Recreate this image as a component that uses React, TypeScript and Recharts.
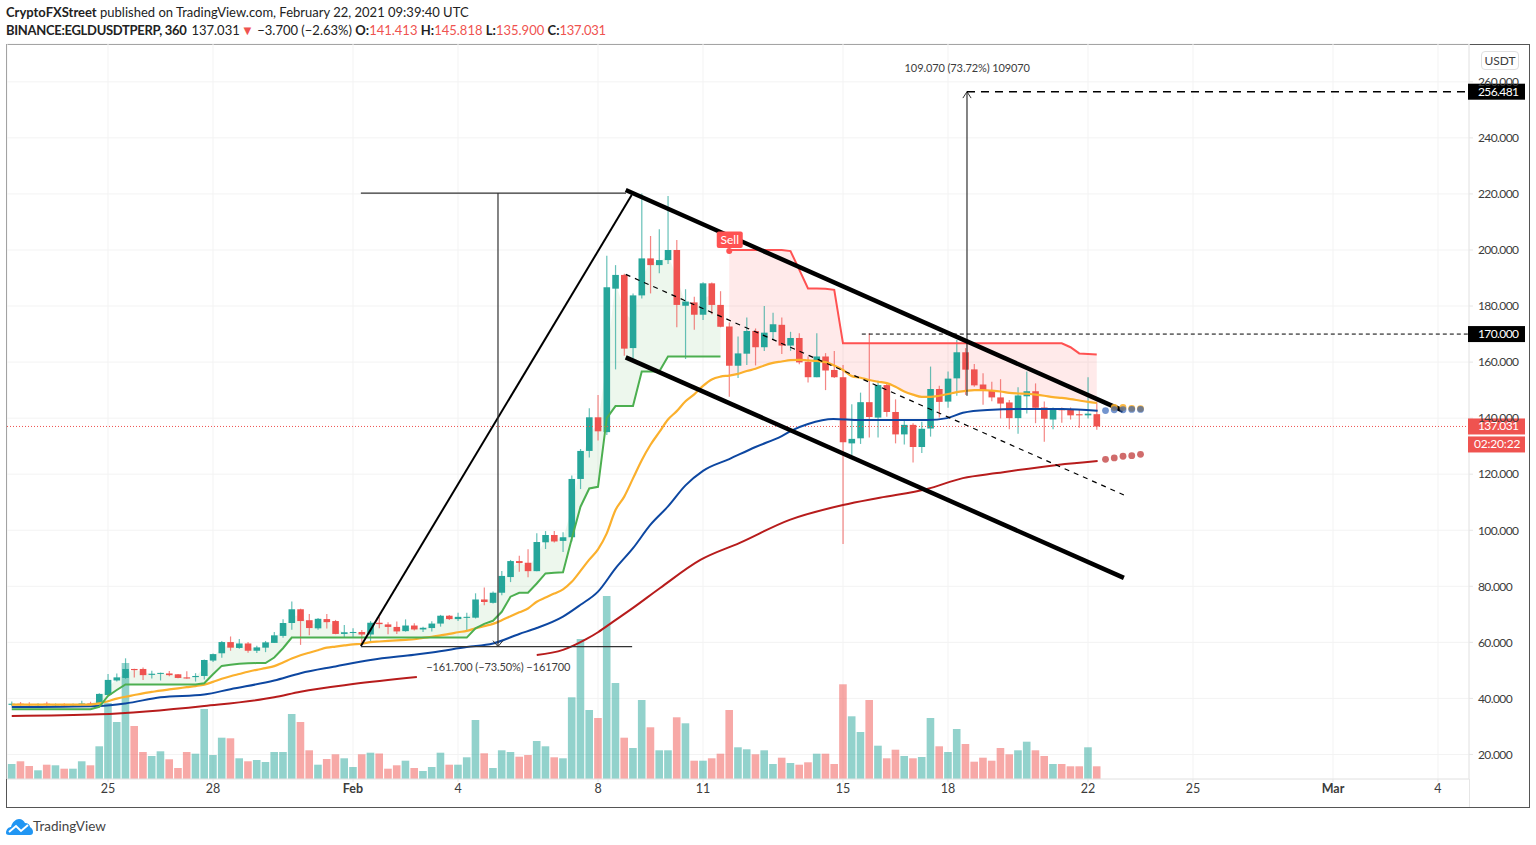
import React from 'react';
import {
  Area,
  Bar,
  CartesianGrid,
  ComposedChart,
  Line,
  ReferenceDot,
  ReferenceLine,
  XAxis,
  YAxis,
} from 'recharts';

// one row per 6h candle, index 0 is the first candle on the left
const opens = [
  37.7, 38.1, 38, 37.6, 38.1, 37.6, 37.9, 37.5, 37.8, 38.2,
  37.9, 41.2, 46.4, 47.3, 50.5, 50.5, 48.4, 48.8, 48.9, 48.6,
  47.5, 47.6, 48, 53.5, 56.1, 60.1, 58, 59.6, 57, 58.1,
  59.8, 62.3, 66.9, 71.8, 67.9, 65, 68.3, 67.6, 63, 63.4,
  63.7, 62.8, 67, 66.4, 65.5, 64, 66, 64.6, 65.1, 66.7,
  69.5, 68.3, 68.9, 68.8, 75.3, 74.1, 77.7, 83.3, 89, 88.4,
  85.4, 95.7, 98.3, 96.2, 97.5, 118.3, 128.3, 140.3, 135, 186.2,
  191.1, 165, 183.8, 197, 194.6, 196.4, 200, 180.1, 181.3, 176.9,
  188.1, 180.4, 172.7, 158.7, 163, 171.1, 165.3, 170.7, 173.3, 165.9,
  168.6, 160.1, 154.6, 162, 157.2, 154.6, 131, 132.8, 145.7, 140.2,
  151.8, 142.2, 134.2, 137.6, 129.7, 136.3, 150.4, 145.9, 154.2, 163.5,
  157.4, 152, 149.8, 147.4, 145.6, 140, 147.8, 149.6, 143.8, 139.5,
  143.2, 142.9, 141.4, 141, 141.413,
];
const closes = [
  38.1, 37.8, 37.6, 38, 37.7, 37.9, 37.5, 37.9, 38.2, 37.9,
  41.6, 46.6, 47.5, 50.5, 50.1, 48.3, 48.8, 49.1, 48.3, 47.3,
  47.1, 48, 53.7, 55.8, 60.1, 58.1, 59.6, 57, 58.2, 60,
  62.5, 66.9, 71.8, 67.6, 65.1, 68.4, 67.2, 63, 63.6, 63.7,
  62.8, 67, 66.5, 65.5, 63.9, 66, 64.6, 65.2, 66.7, 69.5,
  68.3, 69.1, 69.1, 75.3, 74.4, 77.7, 83.7, 89, 88.3, 85.4,
  95.8, 98.3, 96, 97.5, 118.3, 128.3, 140.3, 135.3, 186.7, 191.1,
  164.8, 183.8, 197, 194.6, 196.4, 200, 180.4, 181.6, 176.9, 188.1,
  180.4, 172.6, 158.7, 163.1, 171.1, 165.3, 170.5, 173.5, 165.9, 168.6,
  159.9, 154.6, 162, 157, 154.6, 131.4, 132.6, 145.7, 140.4, 151.8,
  142.2, 134.2, 137.6, 129.7, 136.2, 150.4, 145.8, 154.1, 163.5, 157.3,
  151.7, 149.8, 147.4, 145.2, 140, 148.1, 149.6, 143.7, 139.8, 143.2,
  142.8, 141, 141, 141.6, 137.031,
];
const highs = [
  38.9, 38.7, 38.6, 38.3, 38.8, 38.2, 38.3, 38.2, 39.2, 38.8,
  41.8, 48.7, 48.9, 54.3, 50.6, 51, 49.9, 49.2, 49.8, 48.7,
  49.7, 49, 53.9, 56, 60.5, 62.1, 61.2, 60.1, 58.8, 60.5,
  63.7, 68.2, 74.6, 72, 70.1, 68.7, 70.1, 68, 66.2, 65,
  64.4, 67.6, 69, 67.2, 67.4, 68.2, 66.8, 65.6, 67.5, 69.8,
  69.8, 70.6, 70.6, 77.5, 79.6, 78.1, 85.5, 89.4, 90.9, 93.2,
  98.9, 99.7, 99.7, 99.3, 119.5, 129, 143.5, 148.3, 197.9, 194.6,
  191.5, 184.5, 220.2, 205, 207.4, 219.3, 203.6, 186, 183.3, 188.5,
  188.4, 185.3, 174.1, 169.1, 175.9, 172, 180, 177.6, 175.9, 170.8,
  170.3, 162, 170.3, 163.2, 164, 159, 145, 149.1, 170.3, 153.3,
  152.4, 146.7, 139.3, 138.2, 138.7, 158.4, 151.6, 156.6, 167.9, 165,
  159.3, 156, 153, 153.9, 146.5, 151, 156.6, 152.4, 145.9, 143.8,
  143.8, 143.8, 142.9, 154.6, 145.818,
];
const lows = [
  37.3, 37.4, 37.2, 37.3, 37.2, 37.2, 37.1, 37.2, 37.5, 37.6,
  37.6, 41, 46, 47, 47.5, 46.6, 47.1, 46.4, 47.9, 47.2,
  47, 46, 46.7, 53, 54.5, 57, 57.7, 56.3, 56.2, 56.5,
  59.8, 61.6, 64.5, 59.1, 62.5, 64.5, 64.9, 62.9, 61.9, 61.9,
  59.4, 60.1, 65, 62.9, 63, 63.8, 64.2, 63.7, 63.9, 65.6,
  68, 67.6, 64, 68.5, 73.2, 73.9, 76.8, 81.5, 85.2, 83.2,
  85.4, 93.3, 95.6, 92.2, 96, 114.7, 126, 132, 134, 157.4,
  162.3, 161.4, 182.7, 184.5, 191.7, 195, 172.4, 161.1, 171.5, 175,
  177.1, 172.4, 147.6, 154.3, 159, 158.8, 164, 168.1, 162.9, 164,
  159.2, 152.7, 154.6, 150, 154.3, 95.1, 126.8, 130.8, 133.1, 133.1,
  140.5, 131, 130.6, 124.2, 127.6, 133.4, 140.2, 143.7, 148, 148.3,
  151.2, 144.8, 146, 139.9, 136, 134.4, 141.7, 138.2, 131.6, 136,
  138.4, 139.5, 136.6, 139.9, 135.9,
];
const volumes = [
  15, 17.7, 13, 8.7, 14.3, 13.7, 10.3, 10.3, 17.7, 13.7,
  32.7, 76, 57, 116, 53, 27, 23, 27.7, 19.7, 11,
  27, 25.3, 70, 24, 41.3, 40.7, 20.7, 17.7, 19, 17,
  27, 27, 65, 57, 28.7, 14.3, 20, 24.7, 20.7, 12,
  24.7, 26.3, 25.5, 10.3, 13.7, 18.3, 11, 8, 12, 26.3,
  14.3, 14.3, 21.7, 59, 25.7, 11, 28.7, 27, 22.3, 24,
  38, 32.7, 21.7, 20.7, 81.7, 140, 69, 61, 183, 96,
  41.3, 31, 79, 51.7, 28.7, 28.7, 61.7, 55.7, 18.3, 18.3,
  20.7, 25.3, 69, 31.7, 29.7, 24.7, 28.7, 15, 21.3, 16,
  14.3, 16.7, 25.3, 25.3, 15, 94.7, 62.7, 47, 79, 33.3,
  20.7, 29.3, 23, 20.7, 22, 61, 32.7, 27, 50, 35,
  17.3, 21.3, 18.3, 31, 24.7, 28.7, 37.3, 28.7, 23, 15,
  15, 12.7, 12.7, 31.7, 12.7,
];

// orange moving average, per candle
const emaOrange = [
  37.8, 37.8, 37.8, 37.8, 37.8, 37.8, 37.8, 37.8, 37.8, 37.8,
  38.2, 39, 39.9, 40.6, 41.2, 41.8, 42.3, 42.8, 43.2, 43.6,
  44, 44.4, 44.9, 45.9, 47, 47.9, 48.7, 49.5, 50.2, 50.8,
  51.5, 52.8, 54.2, 55.4, 56.3, 57.2, 58.1, 58.5, 58.9, 59.3,
  59.5, 60.1, 60.3, 60.5, 60.7, 60.9, 61.1, 61.6, 62, 62.5,
  63, 63.6, 64.1, 65, 65.8, 66.6, 67.9, 69.3, 70.7, 72.1,
  74.5, 76, 77.4, 78.9, 81.6, 85.5, 89.5, 93.2, 98.9, 107.2,
  112, 118.5, 125, 130.5, 135, 139.5, 142.5, 146, 148.5, 151.5,
  153.8, 154.8, 155.2, 155.8, 156.8, 157.6, 158.8, 159.7, 160.2, 160.7,
  160.8, 160.6, 160.4, 160, 158.8, 157.2, 155, 154.4, 153.6, 153,
  152.5, 151.2, 149.5, 148.4, 147.6, 147.6, 148, 148.6, 149.3, 149.7,
  150, 150, 149.8, 149.5, 149, 148.8, 148.7, 148.4, 148, 147.5,
  147.2, 146.8, 146.3, 145.8, 145.4,
];
// supertrend: long side runs candle 0..81, short side 82..124
const trendUp = [
  36.1, 36.1, 36.1, 36.1, 36.1, 36.1, 36.1, 36.1, 36.1, 36.1,
  37, 40.9, 43, 45, 45, 45, 45, 45, 45, 45,
  45, 45, 45.4, 48.6, 51.6, 52, 52.4, 52.5, 52.6, 52.6,
  54.6, 57.9, 61.7, 61.7, 61.7, 61.7, 61.7, 61.7, 61.7, 61.7,
  61.7, 61.7, 61.7, 61.7, 61.7, 61.7, 61.7, 61.7, 61.7, 61.7,
  61.7, 61.7, 61.7, 65, 66.6, 67.7, 70.9, 76.3, 77.7, 77.7,
  81, 84.6, 84.8, 85, 97, 108.4, 114.9, 115.5, 140, 144.3,
  144.3, 144.3, 156.6, 156.6, 156.6, 162, 162, 162, 162, 162,
  162, 162,
];
const trendDown = [
  200, 200, 200, 200, 200, 200, 200, 199.6, 193, 186.3,
  186.3, 186.2, 185.8, 166.7, 166.7, 166.7, 166.7, 166.7, 166.7, 166.7,
  166.7, 166.7, 166.7, 166.7, 166.7, 166.7, 166.7, 166.7, 166.7, 166.7,
  166.7, 166.7, 166.7, 166.7, 166.7, 166.7, 166.7, 166.7, 166.7, 165.3,
  163.1, 162.9, 162.7,
];
const trendDownStart = 82;

// [candle index, price]
const emaBlue = [
  [0, 36.9], [10, 37.3], [13, 38.2], [17, 40.4], [22, 41.4], [25, 43.3], [30, 46.4], [33, 49], [37, 51.4],
  [41, 53.7], [46, 55.6], [48, 56.4], [52, 58.3], [55, 59.6], [58, 63], [60, 65.1], [63, 69.2], [65, 73.4],
  [67, 78.1], [69, 86.4], [71, 93.6], [73, 102], [75, 108.5], [77, 116], [79, 121.2], [82, 125.4], [85, 129.7],
  [88, 133.6], [89.3, 135.8], [91, 137.9], [93.9, 139.7], [96.9, 139.3], [104.6, 139.3], [106.9, 140],
  [108.7, 141.9], [111.5, 142.9], [116.4, 143.3], [120.1, 143.3], [124.1, 142.6],
];
const emaRedLeft = [
  [0, 33.7], [10, 34.3], [22, 37.3], [30, 40.4], [33, 42.4], [39, 45.1], [46.3, 47.6],
];
const emaRedRight = [
  [60, 55.5], [63, 57.3], [65.7, 61.2], [67, 63.6], [68.7, 67.3], [71, 72.3], [74.1, 79.4], [78.7, 89.4],
  [83.2, 95.5], [88.9, 103.7], [95, 109], [99.2, 111.6], [104.6, 114.7], [108.7, 118.6], [112.6, 120.4],
  [119.5, 123.3], [124.1, 124.7],
];
const forecastOrange = [[126, 143.8], [127, 143.8], [128, 143.5], [129, 143.4]];
const forecastBlue = [[125, 142.7], [126, 143], [127, 143], [128, 143.1], [129, 143.1]];
const forecastRed = [[125, 125.3], [126, 125.8], [127, 126.4], [128, 126.6], [129, 127.1]];

// drawings
const channelTop = [[70.17, 221.4], [127, 142.7]];
const channelBottom = [[70.17, 161.7], [127.1, 83]];
const channelMiddle = [[70.17, 191.3], [127.1, 112.6]];
const swingLine = [[39.9, 58.7], [70.85, 219.6]];
const rangeTop = [[39.9, 220.3], [70.2, 220.3]];
const rangeBottom = [[39.9, 58.5], [70.9, 58.5]];
const rangeStem = [[55.57, 220.3], [55.57, 58.5]];
const rangeArrow = [[55, 60.6], [55.57, 58.5], [56.14, 60.6]];
const targetStem = [[109.17, 148], [109.17, 256.481]];
const targetArrow = [[108.7, 254.2], [109.17, 256.481], [109.64, 254.2]];

const priceTicks = [20, 40, 60, 80, 100, 120, 140, 160, 180, 200, 220, 240, 260];
const dayTicks = [11, 23, 39, 51, 67, 79, 95, 107, 123, 135, 151, 163];
const dayLabels = ['25', '28', 'Feb', '4', '8', '11', '15', '18', '22', '25', 'Mar', '4'];
const boldDays = ['Feb', 'Mar'];

const UP = '#26a69a';
const DOWN = '#ef5350';
const FONT = 'Lato, "Open Sans", sans-serif';
const TEXT = '#3c3c3c';
const CANDLE_W = 6.6;
const VOLUME_W = 7.6;

const toRows = (pts: number[][]) => pts.map(([k, v]) => ({ k, v }));

const candles = opens.map((open, k) => ({
  k,
  open,
  close: closes[k],
  high: highs[k],
  low: lows[k],
  volume: volumes[k],
  range: [lows[k], highs[k]],
}));

const greenBand = trendUp.map((v, k) => ({ k, band: [v, (opens[k] + closes[k]) / 2] }));
const redBand = trendDown.map((v, i) => ({
  k: i + trendDownStart,
  band: [emaOrange[i + trendDownStart], v],
}));
const orangeRows = emaOrange.map((v, k) => ({ k, v }));
const upRows = trendUp.map((v, k) => [k, v]);
const downRows = trendDown.map((v, i) => [i + trendDownStart, v]);

// the numeric axis hands out a very thin band, so the shapes size themselves around its centre
const Candle = (props: any) => {
  const { x, y, width, height, payload } = props;
  const { open, close, high, low } = payload;
  const color = close >= open ? UP : DOWN;
  const perUnit = height / (high - low || 1);
  const top = y + (high - Math.max(open, close)) * perUnit;
  const bodyH = Math.max(Math.abs(open - close) * perUnit, 1);
  const mid = x + width / 2;
  return (
    <g>
      <line x1={mid} x2={mid} y1={y} y2={y + height} stroke={color} strokeOpacity={0.7} strokeWidth={1.2} />
      <rect x={mid - CANDLE_W / 2} y={top} width={CANDLE_W} height={bodyH} fill={color} />
    </g>
  );
};

const VolumeBar = (props: any) => {
  const { x, y, width, height, payload } = props;
  const color = payload.close >= payload.open ? UP : DOWN;
  const mid = x + width / 2;
  return <rect x={mid - VOLUME_W / 2} y={y} width={VOLUME_W} height={height} fill={color} fillOpacity={0.5} />;
};

const PriceTag = ({ cx, cy, text, bg, sub }: any) => (
  <g>
    <rect x={cx - 1} y={cy - 8} width={57} height={16} fill={bg} />
    <text x={cx + 9} y={cy + 4} fontSize={12} letterSpacing={-0.6} fontFamily={FONT} fill="#fff">{text}</text>
    {sub && <rect x={cx - 1} y={cy + 10} width={57} height={16} fill={bg} />}
    {sub && <text x={cx + 5} y={cy + 22} fontSize={12} letterSpacing={-0.2} fontFamily={FONT} fill="#fff">{sub}</text>}
  </g>
);

const SellMark = ({ cx, cy }: any) => (
  <g>
    <rect x={cx - 12.5} y={cy - 19.5} width={26} height={16.5} rx={2} fill="#ff5252" />
    <circle cx={cx} cy={cy} r={3} fill="#ff5252" />
    <text x={cx + 0.5} y={cy - 7} textAnchor="middle" fontSize={12} fontFamily={FONT} fill="#fff">Sell</text>
  </g>
);

const Note = ({ cx, cy, text }: any) => (
  <text x={cx} y={cy + 4} textAnchor="middle" fontSize={11} letterSpacing={-0.1} fontFamily={FONT} fill={TEXT}>{text}</text>
);

const DayTick = ({ x, y, payload }: any) => {
  const label = dayLabels[dayTicks.indexOf(payload.value)];
  return (
    <text
      x={x}
      y={y + 9}
      textAnchor="middle"
      fontSize={12.5}
      fontFamily={FONT}
      fontWeight={boldDays.includes(label) ? 700 : 400}
      fill={TEXT}
    >
      {label}
    </text>
  );
};

const line = (key: string, pts: number[][], stroke: string, width: number, dash?: string) => (
  <Line
    key={key}
    data={toRows(pts)}
    dataKey="v"
    yAxisId="price"
    stroke={stroke}
    strokeWidth={width}
    strokeDasharray={dash}
    dot={false}
    activeDot={false}
    isAnimationActive={false}
    legendType="none"
  />
);

const dots = (key: string, pts: number[][], fill: string) => (
  <Line
    key={key}
    data={toRows(pts)}
    dataKey="v"
    yAxisId="price"
    stroke="none"
    dot={{ r: 3.4, fill, stroke: 'none' }}
    activeDot={false}
    isAnimationActive={false}
    legendType="none"
  />
);

const smooth = (key: string, rows: { k: number; v: number }[], stroke: string, width: number) => (
  <Line
    key={key}
    data={rows}
    dataKey="v"
    yAxisId="price"
    type="monotone"
    stroke={stroke}
    strokeWidth={width}
    dot={false}
    activeDot={false}
    isAnimationActive={false}
    legendType="none"
  />
);

const header: React.CSSProperties = {
  position: 'absolute',
  left: 6,
  fontFamily: FONT,
  fontSize: 13,
  color: '#222',
  whiteSpace: 'nowrap',
};

const red = { color: DOWN };

export default function App() {
  return (
    <div style={{ position: 'absolute', left: 0, top: 0, width: 1536, height: 845, background: '#fff', overflow: 'hidden' }}>
      <div style={{ ...header, top: 4 }}>
        <b>CryptoFXStreet</b> published on TradingView.com, February 22, 2021 09:39:40 UTC
      </div>
      <div style={{ ...header, top: 22 }}>
        <b style={{ letterSpacing: -0.3 }}>BINANCE:EGLDUSDTPERP, 360</b>&nbsp;&thinsp;137.031{' '}
        <span style={{ ...red, marginLeft: -2 }}>▼</span> −3.700 (−2.63%){' '}
        <b>O:</b><span style={red}>141.413</span> <b>H:</b><span style={red}>145.818</span>{' '}
        <b>L:</b><span style={red}>135.900</span> <b>C:</b><span style={{ ...red, letterSpacing: -0.3 }}>137.031</span>
      </div>

      <div style={{ position: 'absolute', left: 6, top: 44, width: 1522, height: 762, border: '1.5px solid #555', boxSizing: 'content-box' }} />
      <div style={{ position: 'absolute', left: 1469, top: 779, width: 1, height: 28, background: '#e6e6e6' }} />

      <ComposedChart
        width={1536}
        height={845}
        data={candles}
        margin={{ top: 44, right: 6, bottom: 38, left: 7 }}
        style={{ position: 'absolute', left: 0, top: 0 }}
      >
        <XAxis
          dataKey="k"
          type="number"
          domain={[-0.543, 166.543]}
          allowDataOverflow
          ticks={dayTicks}
          interval={0}
          height={28}
          stroke="#e6e6e6"
          tickSize={3}
          tick={<DayTick />}
        />
        <YAxis
          yAxisId="price"
          orientation="right"
          domain={[11.24, 273.5]}
          allowDataOverflow
          ticks={priceTicks}
          interval={0}
          width={61}
          stroke="#e6e6e6"
          tickSize={4}
          tickMargin={5}
          tickFormatter={(v: number) => v.toFixed(3)}
          tick={{ fontSize: 12, letterSpacing: -0.6, fontFamily: FONT, fill: TEXT, textAnchor: 'start' }}
        />
        <YAxis yAxisId="volume" hide domain={[0, 735]} allowDataOverflow />
        <CartesianGrid yAxisId="price" stroke="#f3f3f3" strokeWidth={1} />

        <Bar
          yAxisId="volume"
          dataKey="volume"
          shape={<VolumeBar />}
          isAnimationActive={false}
          legendType="none"
        />

        <Area
          data={greenBand}
          yAxisId="price"
          dataKey="band"
          stroke="none"
          fill="#4caf50"
          fillOpacity={0.1}
          dot={false}
          activeDot={false}
          isAnimationActive={false}
          legendType="none"
        />
        <Area
          data={redBand}
          yAxisId="price"
          dataKey="band"
          stroke="none"
          fill="#ff5252"
          fillOpacity={0.12}
          dot={false}
          activeDot={false}
          isAnimationActive={false}
          legendType="none"
        />

        <ReferenceLine yAxisId="price" y={137.031} stroke={DOWN} strokeDasharray="1 2" />

        {smooth('red-left', toRows(emaRedLeft), '#b71c1c', 2)}
        {smooth('red-right', toRows(emaRedRight), '#b71c1c', 2)}
        {smooth('blue', toRows(emaBlue), '#0d47a1', 2)}
        {smooth('orange', orangeRows, '#fbb02d', 2.2)}
        {line('trend-up', upRows, '#4caf50', 2)}
        {line('trend-down', downRows, '#ff5252', 2)}

        <Bar
          yAxisId="price"
          dataKey="range"
          shape={<Candle />}
          isAnimationActive={false}
          legendType="none"
        />

        {dots('fc-orange', forecastOrange, 'rgba(251,176,45,0.9)')}
        {dots('fc-blue', forecastBlue, 'rgba(40,90,180,0.65)')}
        {dots('fc-red', forecastRed, 'rgba(183,28,28,0.65)')}

        {line('swing', swingLine, '#000', 2)}
        {line('range-top', rangeTop, '#333', 1.2)}
        {line('range-bottom', rangeBottom, '#333', 1.2)}
        {line('range-stem', rangeStem, '#333', 1.2)}
        {line('range-arrow', rangeArrow, '#333', 1)}
        {line('target-stem', targetStem, '#333', 1.2)}
        {line('target-arrow', targetArrow, '#333', 1)}
        {line('channel-mid', channelMiddle, '#000', 1.2, '5 5')}
        {line('channel-top', channelTop, '#000', 4.5)}
        {line('channel-bottom', channelBottom, '#000', 4.5)}

        <ReferenceLine
          yAxisId="price"
          segment={[{ x: 109.17, y: 256.481 }, { x: 166.543, y: 256.481 }]}
          stroke="#000"
          strokeWidth={1.6}
          strokeDasharray="8 6"
        />
        <ReferenceLine
          yAxisId="price"
          segment={[{ x: 97.15, y: 170 }, { x: 166.543, y: 170 }]}
          stroke="#000"
          strokeWidth={1}
          strokeDasharray="4 3"
        />

        <ReferenceDot yAxisId="price" x={82} y={199.6} ifOverflow="visible" shape={<SellMark />} />
        <ReferenceDot yAxisId="price" x={109.2} y={265} ifOverflow="visible" shape={<Note text="109.070  (73.72%)  109070" />} />
        <ReferenceDot yAxisId="price" x={55.6} y={51.1} ifOverflow="visible" shape={<Note text="−161.700  (−73.50%)  −161700" />} />
        <ReferenceDot yAxisId="price" x={166.543} y={256.481} ifOverflow="visible" shape={<PriceTag text="256.481" bg="#000" />} />
        <ReferenceDot yAxisId="price" x={166.543} y={170} ifOverflow="visible" shape={<PriceTag text="170.000" bg="#000" />} />
        <ReferenceDot yAxisId="price" x={166.543} y={137.031} ifOverflow="visible" shape={<PriceTag text="137.031" sub="02:20:22" bg="#ef5350" />} />
      </ComposedChart>

      <div
        style={{
          position: 'absolute',
          left: 1481,
          top: 51,
          width: 36,
          height: 17,
          border: '1px solid #e0e0e0',
          borderRadius: 4,
          fontFamily: FONT,
          fontSize: 12,
          lineHeight: '17px',
          textAlign: 'center',
          color: TEXT,
          background: '#fff',
        }}
      >
        USDT
      </div>

      <svg width={28} height={18} viewBox="0 0 28 18" style={{ position: 'absolute', left: 6, top: 818 }}>
        <path
          d="M0 15 C0 11 3 9 5 9 C6 4 10 1 13 1 C16 1 18 3 19 5 C22 5 24 7 24 9 C26 10 27 12 27 14 C27 16 26 17 24 17 L3 17 C1 17 0 16 0 15 Z"
          fill="#2196f3"
        />
        <path d="M3 14 L10 8 L15 13 L22 7" fill="none" stroke="#fff" strokeWidth={2} />
      </svg>
      <div style={{ position: 'absolute', left: 33, top: 818, fontFamily: FONT, fontSize: 13.5, color: '#444' }}>TradingView</div>
    </div>
  );
}
